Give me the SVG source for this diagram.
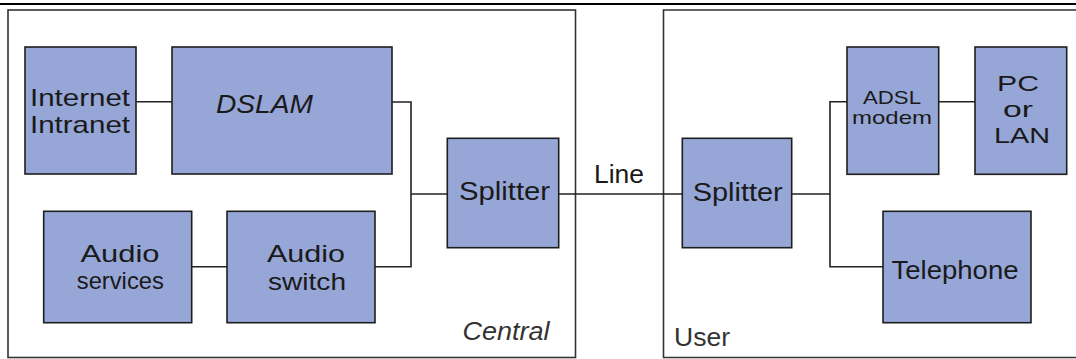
<svg xmlns="http://www.w3.org/2000/svg" width="1076" height="359" viewBox="0 0 1076 359">
  <style>
    .panel { fill: none; stroke: #333; stroke-width: 1.6; }
    .box { fill: #96a6d6; stroke: #1e1e1e; stroke-width: 1.6; }
    .wire { fill: none; stroke: #222; stroke-width: 1.6; }
    text { font-family: "Liberation Sans", Arial, sans-serif; fill: #1a1a1a; text-anchor: middle; }
    .lg { font-size: 26px; }
    .two { font-size: 24px; }
    .sm { font-size: 19px; }
    .md { font-size: 22px; }
    .it { font-style: italic; }
    .zone { fill: #333; font-size: 25px; }
  </style>

  <!-- top rule -->
  <rect x="0" y="3" width="1076" height="2" fill="#000"/>

  <!-- areas -->
  <g id="central">
    <rect class="panel" x="8" y="10" width="567.5" height="347.5"/>
    <text class="zone it" x="506" y="340" textLength="87" lengthAdjust="spacingAndGlyphs">Central</text>
  </g>
  <g id="user">
    <path class="panel" d="M1078,10 H663.5 V357.5 H1078"/>
    <text class="zone" x="702" y="346" textLength="56" lengthAdjust="spacingAndGlyphs">User</text>
  </g>

  <!-- connectors -->
  <g id="connectors">
    <path class="wire" d="M136,101.7 H172"/>
    <path class="wire" d="M392,102 H411 V266.7 H375"/>
    <path class="wire" d="M411,194 H447.3"/>
    <path class="wire" d="M191.7,266.7 H227"/>
    <path class="wire" d="M558.7,194 H682.3"/>
    <path class="wire" d="M791.7,194 H830"/>
    <path class="wire" d="M847,101.7 H830 V266.7 H883"/>
    <path class="wire" d="M938.7,101.7 H975"/>
    <text class="lg" x="619" y="183" textLength="50" lengthAdjust="spacingAndGlyphs">Line</text>
  </g>

  <g id="internet">
    <rect class="box" x="25" y="47" width="111" height="127"/>
    <text class="two" x="80" y="106" textLength="100" lengthAdjust="spacingAndGlyphs">Internet</text>
    <text class="two" x="80" y="132.7" textLength="100" lengthAdjust="spacingAndGlyphs">Intranet</text>
  </g>

  <g id="dslam">
    <rect class="box" x="172" y="47" width="220" height="127"/>
    <text class="lg it" x="264.5" y="112.7" textLength="97" lengthAdjust="spacingAndGlyphs">DSLAM</text>
  </g>

  <g id="audio-services">
    <rect class="box" x="43.7" y="211.3" width="148" height="111.4"/>
    <text class="two" x="120" y="261.7" textLength="79" lengthAdjust="spacingAndGlyphs">Audio</text>
    <text class="two" x="120.3" y="289" textLength="87" lengthAdjust="spacingAndGlyphs">services</text>
  </g>

  <g id="audio-switch">
    <rect class="box" x="227" y="211.3" width="148" height="111.4"/>
    <text class="two" x="306" y="261.7" textLength="78" lengthAdjust="spacingAndGlyphs">Audio</text>
    <text class="two" x="307" y="290" textLength="78" lengthAdjust="spacingAndGlyphs">switch</text>
  </g>

  <g id="splitter-central">
    <rect class="box" x="447.3" y="138.3" width="111.4" height="109.4"/>
    <text class="lg" x="504.5" y="200" textLength="91" lengthAdjust="spacingAndGlyphs">Splitter</text>
  </g>

  <g id="splitter-user">
    <rect class="box" x="682.3" y="138.3" width="109.4" height="109.4"/>
    <text class="lg" x="737.7" y="200.7" textLength="90" lengthAdjust="spacingAndGlyphs">Splitter</text>
  </g>

  <g id="adsl-modem">
    <rect class="box" x="847" y="47" width="91.7" height="127.3"/>
    <text class="sm" x="892" y="104" textLength="58" lengthAdjust="spacingAndGlyphs">ADSL</text>
    <text class="sm" x="892" y="124" textLength="80" lengthAdjust="spacingAndGlyphs">modem</text>
  </g>

  <g id="pc-lan">
    <rect class="box" x="975" y="47" width="91.7" height="127.3"/>
    <text class="md" x="1018" y="91" textLength="42" lengthAdjust="spacingAndGlyphs">PC</text>
    <text class="md" x="1018" y="117" textLength="30" lengthAdjust="spacingAndGlyphs">or</text>
    <text class="md" x="1022" y="142.7" textLength="56" lengthAdjust="spacingAndGlyphs">LAN</text>
  </g>

  <g id="telephone">
    <rect class="box" x="883" y="211.3" width="148" height="111.4"/>
    <text class="lg" x="955" y="279" textLength="127" lengthAdjust="spacingAndGlyphs">Telephone</text>
  </g>
</svg>
